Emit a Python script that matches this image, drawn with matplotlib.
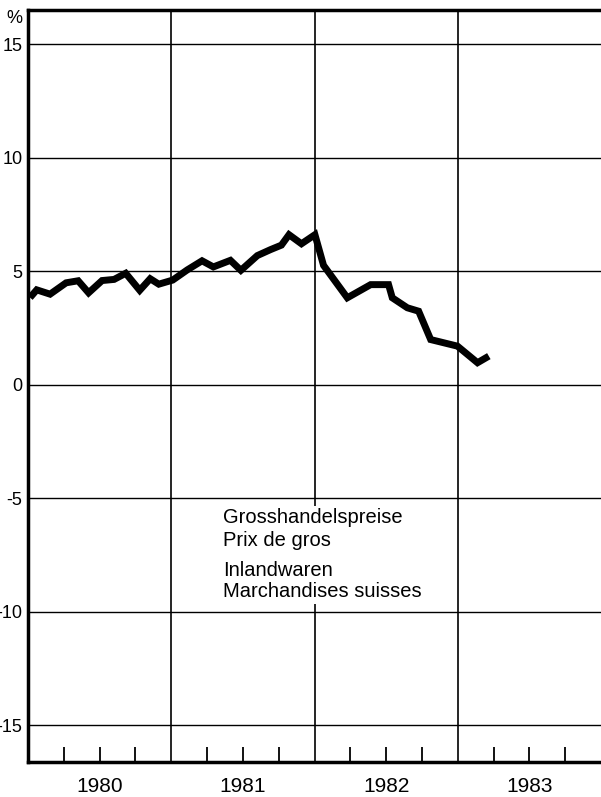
import matplotlib
matplotlib.use('Agg')
import matplotlib.pyplot as plt
from matplotlib.patches import Rectangle

plt.rcParams['font.family'] = ['Liberation Sans', 'DejaVu Sans']
plt.rcParams['axes.unicode_minus'] = False

# Grosshandelspreise Inlandwaren, Veränderung gegenüber Vorjahr in %
dates = [1980.014, 1980.061, 1980.154, 1980.266, 1980.350, 1980.423, 1980.517,
         1980.601, 1980.682, 1980.780, 1980.853, 1980.913, 1981.010, 1981.112,
         1981.215, 1981.294, 1981.413, 1981.486, 1981.601, 1981.692, 1981.769,
         1981.822, 1981.909, 1982.003, 1982.063, 1982.229, 1982.392, 1982.517,
         1982.543, 1982.648, 1982.727, 1982.811, 1982.998, 1983.138, 1983.217]
values = [3.83, 4.17, 3.98, 4.48, 4.57, 4.04, 4.58,
          4.63, 4.90, 4.15, 4.66, 4.42, 4.60, 5.05,
          5.45, 5.18, 5.47, 5.03, 5.68, 5.94, 6.14,
          6.60, 6.20, 6.60, 5.25, 3.82, 4.40, 4.40,
          3.82, 3.38, 3.23, 1.98, 1.69, 0.96, 1.25]

years = [1980, 1981, 1982, 1983]
y_ticks = [-15, -10, -5, 0, 5, 10, 15]
text_lines = ['Grosshandelspreise', 'Prix de gros', 'Inlandwaren', 'Marchandises suisses']

fig = plt.figure(figsize=(6.01, 7.97), dpi=100)
ax = fig.add_axes([0.0466, 0.0439, 0.9534, 0.9436])

ax.set_xlim(1980, 1984)
ax.set_ylim(-16.63, 16.5)

# grid
for y in y_ticks:
    ax.axhline(y, color='black', lw=1.0, zorder=1)
for yr in years[1:]:
    ax.axvline(yr, color='black', lw=1.2, zorder=1)

ax.plot(dates, values, color='black', lw=5, solid_joinstyle='miter',
        solid_capstyle='butt', zorder=3)

# axes frame
for side in ['left', 'top', 'bottom']:
    ax.spines[side].set_linewidth(2.5)
ax.spines['right'].set_visible(False)

ax.set_yticks(y_ticks)
ax.set_yticklabels([str(v) for v in y_ticks])
ax.tick_params(axis='y', length=0, pad=4, labelsize=13)

ax.set_xticks([yr + 0.5 for yr in years])
ax.set_xticklabels([str(yr) for yr in years])
ax.set_xticks([yr + q for yr in years for q in (0.25, 0.75)], minor=True)
ax.tick_params(axis='x', which='both', direction='in', length=11, width=1.3,
               labelsize=15, pad=11)

ax.text(-0.0245, 0.989, '%', transform=ax.transAxes, ha='center', va='center',
        fontsize=13)

# white label field that blanks the grid behind the caption
ax.add_patch(Rectangle((0.327, 0.210), 0.376, 0.130, transform=ax.transAxes,
                       facecolor='white', edgecolor='none', zorder=2))
for txt, yf in zip(text_lines, [0.3178, 0.2876, 0.2473, 0.2198]):
    ax.text(0.341, yf, txt, transform=ax.transAxes, ha='left', va='baseline',
            fontsize=14.5, zorder=4)

fig.savefig('out.png', dpi=100)
